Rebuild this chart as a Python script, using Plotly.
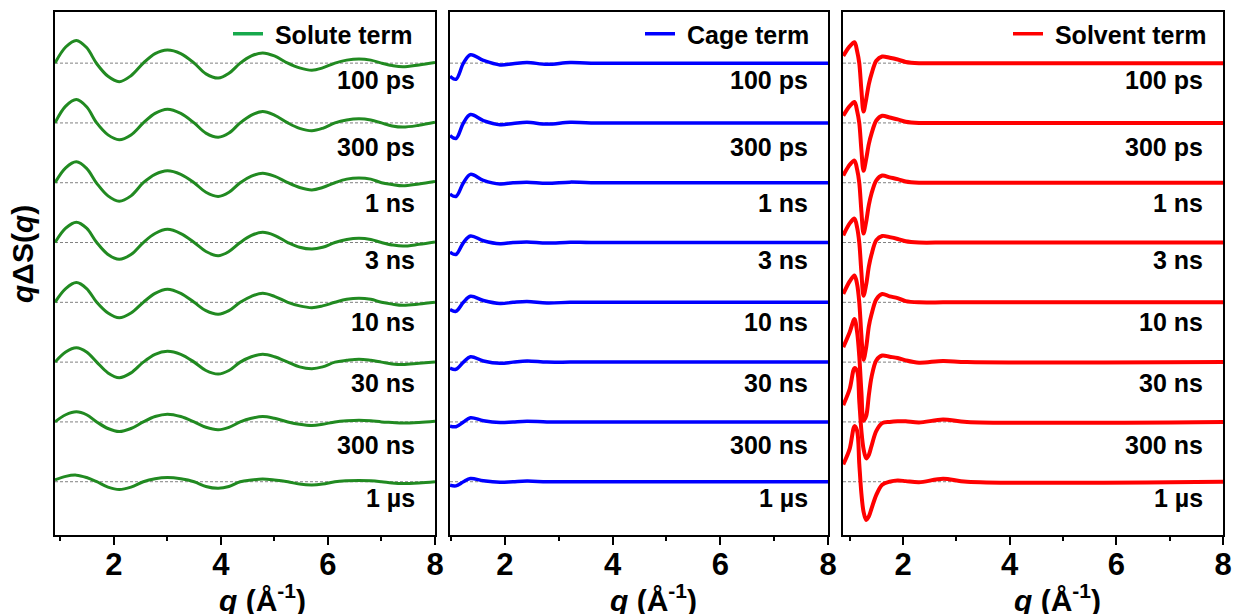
import plotly.graph_objects as go

# ---------------- data ----------------
time_labels = ["100 ps", "300 ps", "1 ns", "3 ns", "10 ns", "30 ns", "300 ns", "1 µs"]
baseline_offsets = [7, 6, 5, 4, 3, 2, 1, 0]

# Solute term
q_solute = [0.9, 1.1, 1.3, 1.49, 1.68, 1.89, 2.1, 2.32, 2.55, 2.77, 3.0, 3.25, 3.5, 3.72, 3.95, 4.15, 4.36,
            4.57, 4.78, 5.0, 5.25, 5.47, 5.7, 5.9, 6.13, 6.35, 6.58, 6.8, 7.0, 7.2, 7.4, 7.7, 8.0]
solute_vals = [
    [0.0, 0.27, 0.38, 0.26, -0.01, -0.22, -0.31, -0.21, 0.0, 0.16, 0.22, 0.16, 0.0, -0.18, -0.25, -0.17, 0.0,
     0.12, 0.17, 0.12, 0.0, -0.08, -0.12, -0.08, 0.0, 0.05, 0.07, 0.05, 0.0, -0.04, -0.06, -0.03, 0.01],
    [0.0, 0.28, 0.39, 0.27, 0.0, -0.20, -0.28, -0.20, 0.0, 0.16, 0.23, 0.16, 0.0, -0.17, -0.24, -0.17, 0.0,
     0.13, 0.19, 0.13, 0.0, -0.09, -0.13, -0.09, 0.0, 0.05, 0.07, 0.05, 0.0, -0.05, -0.07, -0.04, 0.01],
    [0.0, 0.25, 0.35, 0.24, -0.01, -0.22, -0.31, -0.22, 0.0, 0.14, 0.20, 0.14, 0.0, -0.16, -0.23, -0.16, 0.0,
     0.11, 0.16, 0.11, 0.0, -0.08, -0.12, -0.08, 0.0, 0.06, 0.08, 0.06, 0.0, -0.03, -0.05, -0.02, 0.02],
    [0.0, 0.24, 0.34, 0.24, 0.0, -0.20, -0.28, -0.20, 0.0, 0.15, 0.22, 0.15, 0.0, -0.15, -0.22, -0.15, 0.0,
     0.12, 0.17, 0.12, 0.0, -0.08, -0.11, -0.08, 0.0, 0.05, 0.07, 0.05, 0.0, -0.04, -0.06, -0.03, 0.01],
    [0.0, 0.23, 0.33, 0.23, 0.0, -0.18, -0.26, -0.18, 0.0, 0.15, 0.22, 0.15, 0.0, -0.14, -0.20, -0.14, 0.0,
     0.10, 0.15, 0.10, 0.0, -0.06, -0.09, -0.06, 0.0, 0.05, 0.07, 0.05, 0.0, -0.03, -0.05, -0.03, 0.0],
    [0.0, 0.17, 0.24, 0.17, 0.0, -0.18, -0.26, -0.18, 0.0, 0.13, 0.18, 0.13, 0.0, -0.14, -0.20, -0.14, 0.0,
     0.09, 0.13, 0.09, 0.0, -0.08, -0.11, -0.08, 0.0, 0.03, 0.05, 0.03, 0.0, -0.03, -0.04, -0.02, 0.0],
    [0.0, 0.12, 0.17, 0.12, 0.0, -0.11, -0.16, -0.11, 0.0, 0.09, 0.13, 0.09, 0.0, -0.09, -0.13, -0.09, 0.0,
     0.06, 0.09, 0.06, 0.0, -0.04, -0.06, -0.04, 0.0, 0.02, 0.03, 0.02, 0.0, -0.01, -0.02, -0.01, 0.01],
    [0.03, 0.09, 0.11, 0.07, 0.0, -0.09, -0.13, -0.09, 0.0, 0.05, 0.07, 0.05, 0.0, -0.08, -0.11, -0.08, 0.0,
     0.03, 0.045, 0.03, 0.0, -0.04, -0.055, -0.04, 0.0, 0.015, 0.02, 0.015, 0.0, -0.02, -0.03, -0.02, 0.0],
]

# Cage term
q_cage = [0.98, 1.09, 1.23, 1.36, 1.6, 1.91, 2.15, 2.41, 2.78, 3.21, 3.6, 8.0]
cage_vals = [
    [-0.22, -0.27, 0.0, 0.14, 0.045, -0.03, -0.01, 0.01, -0.02, 0.01, 0.0, 0.0],
    [-0.21, -0.26, 0.0, 0.14, 0.04, -0.03, -0.01, 0.01, -0.02, 0.01, 0.0, 0.0],
    [-0.19, -0.23, 0.0, 0.14, 0.04, -0.02, 0.0, 0.01, -0.01, 0.01, 0.0, 0.0],
    [-0.16, -0.20, 0.0, 0.11, 0.03, -0.02, 0.0, 0.01, -0.01, 0.005, 0.0, 0.0],
    [-0.12, -0.15, 0.0, 0.10, 0.03, -0.02, 0.0, 0.015, -0.01, 0.0, 0.0, 0.0],
    [-0.10, -0.12, 0.0, 0.09, 0.02, -0.02, 0.0, 0.02, 0.0, 0.0, 0.0, 0.0],
    [-0.07, -0.08, 0.0, 0.07, 0.02, -0.01, 0.0, 0.01, 0.0, 0.0, 0.0, 0.0],
    [-0.06, -0.07, 0.0, 0.055, 0.015, -0.01, 0.0, 0.01, 0.0, 0.0, 0.0, 0.0],
]

# Solvent term
q_solvent = [0.88, 1.0, 1.09, 1.14, 1.18, 1.22, 1.26, 1.31, 1.36, 1.41, 1.5, 1.61, 1.75, 1.9, 2.05, 2.3, 2.75, 3.2, 8.0]
solvent_vals = [
    [0.12, 0.28, 0.35, 0.20, 0.0, -0.45, -0.81, -0.60, -0.35, -0.18, 0.04, 0.11, 0.09, 0.06, 0.02, 0.0, 0.0, 0.0, 0.0],
    [0.12, 0.28, 0.35, 0.20, 0.0, -0.45, -0.80, -0.60, -0.35, -0.18, 0.04, 0.12, 0.09, 0.06, 0.02, 0.0, 0.0, 0.0, 0.0],
    [0.12, 0.30, 0.37, 0.22, 0.0, -0.48, -0.85, -0.65, -0.37, -0.18, 0.04, 0.12, 0.09, 0.06, 0.02, 0.0, 0.0, 0.0, 0.0],
    [0.12, 0.32, 0.40, 0.25, 0.0, -0.50, -0.89, -0.70, -0.40, -0.20, 0.04, 0.11, 0.09, 0.06, 0.02, 0.0, 0.0, 0.0, 0.0],
    [0.14, 0.35, 0.45, 0.30, 0.0, -0.55, -0.96, -0.75, -0.40, -0.20, 0.05, 0.14, 0.10, 0.07, 0.02, 0.0, 0.0, 0.0, 0.0],
    [0.25, 0.50, 0.72, 0.50, 0.10, -0.50, -0.98, -0.90, -0.55, -0.25, 0.03, 0.11, 0.09, 0.07, 0.03, -0.01, 0.02, 0.0, 0.0],
    [0.28, 0.55, 0.90, 0.85, 0.35, -0.15, -0.45, -0.61, -0.55, -0.40, -0.15, -0.02, 0.0, 0.01, 0.01, -0.01, 0.04, 0.0, 0.0],
    [0.29, 0.55, 0.93, 0.85, 0.30, -0.20, -0.50, -0.64, -0.58, -0.45, -0.22, -0.05, 0.0, 0.02, 0.01, -0.01, 0.05, 0.0, 0.0],
]

panel_names = ["Solute term", "Cage term", "Solvent term"]
x_ticks = [2, 4, 6, 8]
x_minor_ticks = [1, 3, 5, 7]

# ---------------- layout constants ----------------
W, H = 1236, 614
label_dy = [-0.28, -0.40, -0.34, -0.29, -0.33, -0.35, -0.39, -0.27]
x_ranges = [[0.9, 8.0], [0.98, 8.0], [0.875, 8.0]]
x_px = [(55, 435), (450, 828), (843, 1223)]
y_dom = [(H - 535) / H, (H - 12) / H]
y_range = [-0.891, 7.855]
curve_colors = ["#218A21", "#0000FF", "#FF0000"]
legend_colors = ["#17A94C", "#0000FF", "#FF0000"]
curve_widths = [3, 3.5, 4]
curve_smoothing = [1.0, 1.0, 0.9]
FONT = "Liberation Sans, Arial, sans-serif"

fig = go.Figure()

panels = [(q_solute, solute_vals), (q_cage, cage_vals), (q_solvent, solvent_vals)]
for p, (qv, vals) in enumerate(panels):
    xa = "x" if p == 0 else f"x{p+1}"
    ya = "y" if p == 0 else f"y{p+1}"
    for i, v in enumerate(vals):
        fig.add_trace(go.Scatter(
            x=qv, y=[baseline_offsets[i] + val for val in v],
            mode="lines", line=dict(color=curve_colors[p], width=curve_widths[p], shape="spline",
                                    smoothing=curve_smoothing[p]),
            xaxis=xa, yaxis=ya, showlegend=False, hoverinfo="skip"))
    # legend entry
    fig.add_trace(go.Scatter(
        x=[None], y=[None], mode="lines", name="\u00a0" + panel_names[p],
        line=dict(color=legend_colors[p], width=3.5),
        xaxis=xa, yaxis=ya, showlegend=True,
        legend="legend" if p == 0 else f"legend{p+1}"))

    # dotted baselines
    for off in baseline_offsets:
        fig.add_shape(type="line", xref=f"{xa} domain", yref=ya, x0=0, x1=1, y0=off, y1=off,
                      line=dict(color="#808080", width=1, dash="3px,2px"), layer="below")

    # time labels
    for i, lab in enumerate(time_labels):
        fig.add_annotation(text=lab, xref=f"{xa} domain", yref=ya, x=0.952, y=baseline_offsets[i] + label_dy[i],
                           xanchor="right", yanchor="middle", showarrow=False,
                           font=dict(family=FONT, size=25, color="black", weight="bold"))

    # x-axis title
    cx = [262, 653, 1057][p]
    fig.add_annotation(text="<i>q</i> (Å<sup>-1</sup>)", xref="paper", yref="paper",
                       x=cx / W, y=(H - 598) / H, xanchor="center", yanchor="middle", showarrow=False,
                       font=dict(family=FONT, size=30, color="black", weight="bold"))

axis_common_x = dict(showline=True, linecolor="black", linewidth=2, mirror=True, ticks="outside",
                     ticklen=8, tickwidth=2, tickcolor="black", tickvals=x_ticks,
                     ticklabelstandoff=-7,
                     tickfont=dict(family=FONT, size=31, color="black", weight="bold"),
                     minor=dict(tickvals=x_minor_ticks, ticks="outside", ticklen=4, tickwidth=2, tickcolor="black"),
                     showgrid=False, zeroline=False, fixedrange=True)
axis_common_y = dict(showline=True, linecolor="black", linewidth=2, mirror=True, ticks="",
                     showticklabels=False, showgrid=False, zeroline=False, range=y_range, fixedrange=True)

layout = dict(width=W, height=H, margin=dict(l=0, r=0, t=0, b=0, autoexpand=False),
              paper_bgcolor="white", plot_bgcolor="white")
for p in range(3):
    suffix = "" if p == 0 else str(p + 1)
    layout[f"xaxis{suffix}"] = dict(axis_common_x, range=x_ranges[p],
                                    domain=[x_px[p][0] / W, x_px[p][1] / W],
                                    anchor=f"y{suffix}")
    layout[f"yaxis{suffix}"] = dict(axis_common_y, domain=list(y_dom), anchor=f"x{suffix}")
    legend_right = [418, 815, 1212][p]
    layout["legend" if p == 0 else f"legend{p+1}"] = dict(
        x=legend_right / W, y=(H - 34) / H, xanchor="right", yanchor="middle",
        bgcolor="rgba(0,0,0,0)", borderwidth=0,
        font=dict(family=FONT, size=25, color="black", weight="bold"))

fig.update_layout(**layout)

# y-axis title
fig.add_annotation(text="<i>q</i>ΔS(<i>q</i>)", xref="paper", yref="paper", x=23 / W, y=(H - 254) / H,
                   xanchor="center", yanchor="middle", textangle=-90, showarrow=False,
                   font=dict(family=FONT, size=30, color="black", weight="bold"))

fig.write_html("out.html", config={"displayModeBar": False},
               post_script="document.body.style.margin='0px';document.body.style.overflow='hidden';")
